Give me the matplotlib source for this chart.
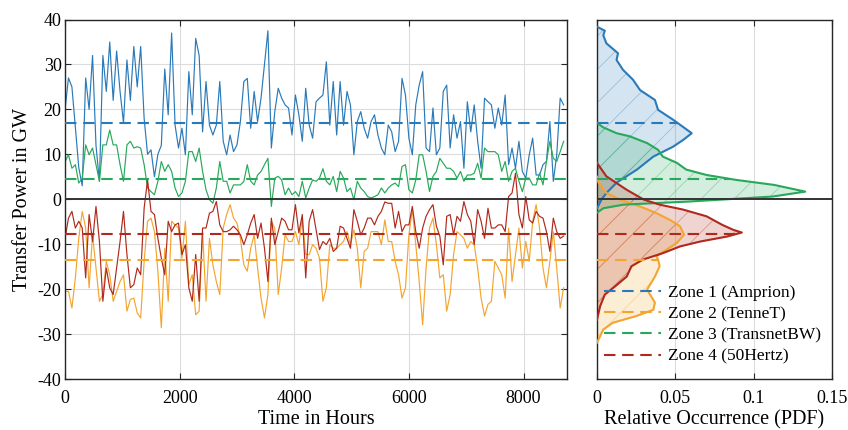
import numpy as np
import matplotlib
matplotlib.use('Agg')
import matplotlib.pyplot as plt
from matplotlib.lines import Line2D

# ---------------- data ----------------
step_hours = 60
zone1 = [20, 27, 25, 16, 7, 3, 27, 20, 32, 12, 4, 32, 24, 35, 22, 33, 24, 17, 31, 22, 34, 25, 34, 18, 10, 11, 5, 10, 12, 29,
         18.8, 37, 16.5, 11.4, 15.8, 9.9, 28.4, 18.8, 35.8, 32, 15, 26.2, 16.5, 14.3, 16.5, 26.2, 12.9, 9.9, 14.3, 10.6, 12.1, 17.3, 26.2, 26.9, 15.8, 24, 17.3, 22.5,
         30, 37.5, 11.4, 19.5, 24.7, 22.5, 21, 20.3, 14.3, 23.2, 18.8, 12.9, 24.7, 16.5, 13.6, 21.7, 22.5, 23.2, 30.6, 16.5, 26.2, 14.3, 26.2, 16.5, 24, 21, 9.9, 17.3, 19.5, 15.8,
         13.6, 17.3, 18.8, 14.3, 11.4, 9.9, 16.5, 15, 10.6, 12.9, 26.9, 23.2, 13.6, 9.9, 21, 25.4, 28.4, 11.4, 10.6, 20.3, 9.9, 11.4, 24, 25.4, 11.4, 18.8, 13.6, 17.3, 6.9,
         21.7, 15, 21, 12.9, 6.9, 22.5, 21.7, 21, 15.8, 20.3, 16.5, 23.2, 7.7, 11.4, 6.9, 12.9, 6.2, 4.7, 9.9, 13.6, 5.4, 5.4, 7.7, 8.4, 17.3, 4, 9.9, 22.5, 21]
zone2 = [-20.5, -20.5, -24.2, -17.5, -8.6, -2.7, -6.4, -19.7, -7.9, -15.3, -22.7, -21.2, -13.8, -16.8, -22.7, -20.5, -18.3, -16.8, -24.9, -22.3, -22, -25.3, -26.4, -13.8, -4.9, -4.2, -7.2, -16, -28.6, -10.9,
         -22.7, -4.9, -5.7, -6.4, -13.1, -4.9, -19, -16.8, -25.7, -24.9, -7.2, -22.7, -8.7, -14.6, -18.3, -21.2, -6.4, -3.4, -1.2, -4.2, -5.3, -8.7, -14.6, -16, -10.9, -7.9, -15.3, -22,
         -26.4, -21.2, -4.9, -6.4, -21.2, -15.3, -7.9, -9.4, -9.4, -7.2, -10.1, -4.2, -12.3, -12.3, -10.1, -10.9, -13.1, -22.7, -19.7, -10.1, -10.9, -10.9, -10.1, -9.4, -7.2, -10.1, -6.8, -10.9, -19.7, -11.6,
         -10.9, -7.2, -7.2, -7.2, -10.1, -4.6, -9.4, -9.4, -13.8, -16.8, -22, -19.7, -7.9, -2.3, -10.1, -18.3, -27.9, -15.3, -6.4, -4.2, -10.1, -17.5, -16.8, -24.9, -21.2, -12.3, -7.2, -7.9, -8.7,
         -10.9, -9.4, -10.1, -15.3, -22, -26, -23.4, -22.7, -13.8, -15.3, -16.8, -22, -6.4, -18.3, -12.3, -6.4, -15.3, -9.4, -13.8, -4.9, -1.2, -6.4, -15.3, -19.7, -13.8, -7.2, -15.3, -24.2, -19.7]
zone3 = [8.4, 9.9, 6.9, 7.7, 3.6, 4.7, 12.1, 9.9, 11.4, 7.7, 4, 12.1, 12.1, 15.4, 12.1, 12.1, 7.7, 4, 12.1, 12.9, 11.4, 11.7, 11.4, 7.7, 2.5, 1.7, 1, 4, 8.4, 6.2,
         7.7, 6.2, 2.5, 0.6, 1.4, 4, 10.6, 10.6, 8.4, 11.4, 6.2, 2.1, -0.1, -0.9, 2.5, 8.4, 4, 4, 1.4, 3.2, 3.2, 3.2, 4, 7.7, 4, 3.2, 5.4, 6.2,
         7.7, 9.1, -1.6, 4.7, 5.1, 4.3, 1, 2.5, 1, 1.7, 0.6, 4, 0.3, 2.5, 4.3, 4, 4.7, 6.8, 4, 3.2, 5.1, 1.7, 6.2, 4.7, 1.7, 2.5, -0.1, 4, 2.5, 1.7,
         0.6, 0.3, 0.6, 1, 2.5, 1.4, 2.5, 3.2, 3.6, 2.8, 7.3, 7.7, 2.1, 1.4, 4.3, 9.9, 9.9, 6.2, 1.7, 5.1, 6.2, 9.1, 8, 6.9, 6.9, 6.2, 4.7, 6.2, 4,
         5.4, 5.4, 5.8, 8, 4.7, 11.4, 10.6, 10.6, 10.6, 9.9, 6.2, 8.4, 4, 6.2, 6.9, 4, 1.7, 4.7, 4.7, 3.2, 3.2, 5.8, 3.2, 8.4, 12.9, 9.1, 8.4, 10.6, 12.9]
zone4 = [-8.7, -4.2, -2.7, -6.4, -4.9, -6.4, -17.5, -3.4, -9.4, -1.6, -9.4, -22.7, -15.3, -19.7, -21.2, -15.3, -9.4, -2.7, -12.3, -19.7, -19, -15.3, -16.8, -2, 4.3, -2.7, -3.4, -8.7, -13.1, -16.8,
         -4.9, -7.2, -5.7, -5.3, -12.3, -10.1, -19.7, -22.7, -12.3, -22.7, -6.4, -6.4, -3.1, -2.7, -0.5, -5.7, -7.2, -7.2, -6.8, -6, -6.8, -7.9, -10.1, -7.9, -5.3, -3.4, -8.7, -5.3,
         -10.9, -18.3, -4.2, -10.1, -7.2, -4.2, -4.9, -6.8, -6.8, -1.2, -7.5, -3.4, -17.5, -4.9, -2.3, -6.8, -11.2, -9.4, -10.1, -8.7, -11.6, -10.9, -6, -6.4, -8.7, -10.9, -2.3, -4.9, -7.9, -6.4,
         -4.2, -4.2, -5.7, -3.8, -2.7, -0.6, -0.9, -0.9, -6.4, -2.7, -7.2, -5.7, -5.7, -1.6, -7.2, -10.9, -6.4, -3.8, -2.3, -1.2, -6, -8.2, -14.6, -3.8, -3.4, -7.9, -3.8, -4.9, -0.5,
         -3.4, -4.9, -10.1, -2.3, -4.9, -8.7, -2, -6.4, -6.4, -5.7, -5.7, -7.2, 0.6, 1.4, 5.8, -3.4, -6.4, 0.6, -4.6, -5.3, -2.7, -3.8, -4.2, -7.2, -11.6, -4.2, -7.2, -8.7, -8.2]

zone_means = [16.9, -13.5, 4.55, -7.65]
zone_labels = ['Zone 1 (Amprion)', 'Zone 2 (TenneT)', 'Zone 3 (TransnetBW)', 'Zone 4 (50Hertz)']

# PDF curves (power level in GW, relative occurrence)
pdf1_y = [-2, 0, 1.4, 3.7, 6.6, 9.5, 11.7, 13.2, 14.7, 17.7, 19.9, 22.1, 24.3, 26.6, 28.8, 31, 32.5, 34.7, 36.5, 37.5, 38.4]
pdf1_d = [0, 0.003, 0.006, 0.0125, 0.0255, 0.036, 0.0486, 0.055, 0.0605, 0.0486, 0.039, 0.037, 0.0275, 0.023, 0.0166, 0.0125, 0.0134, 0.006, 0.004, 0.005, 0]
pdf2_y = [-31.9, -29, -27.5, -26, -24.6, -23, -20.1, -17.2, -14.9, -13.4, -12.7, -11.2, -9.7, -7.9, -6, -4.6, -3.1, -1.6, -0.1, 1.4, 3.7, 5]
pdf2_d = [0, 0.004, 0.010, 0.025, 0.036, 0.037, 0.032, 0.037, 0.040, 0.039, 0.038, 0.0445, 0.051, 0.0556, 0.053, 0.0466, 0.038, 0.0275, 0.015, 0.006, 0.001, 0]
pdf3_y = [-3, -2, -1.2, -0.5, 0.6, 1.7, 3.2, 4.3, 5.4, 6.6, 8.1, 9.5, 11, 12.5, 14, 14.7, 16, 17]
pdf3_d = [0, 0.004, 0.017, 0.059, 0.112, 0.133, 0.113, 0.089, 0.070, 0.057, 0.051, 0.042, 0.039, 0.032, 0.021, 0.0125, 0.004, 0]
pdf4_y = [-26.8, -23.8, -21.2, -19.4, -17.2, -14.9, -13.4, -12, -10.5, -9.4, -8.3, -7.4, -6.8, -5.7, -3.8, -2.3, -1.2, -0.1, 2.1, 5.1, 8.1]
pdf4_d = [0, 0.002, 0.005, 0.0115, 0.019, 0.022, 0.0295, 0.042, 0.053, 0.066, 0.083, 0.0925, 0.087, 0.080, 0.070, 0.055, 0.040, 0.030, 0.019, 0.006, 0]

x_ticks = [0, 2000, 4000, 6000, 8000]
y_ticks = [-40, -30, -20, -10, 0, 10, 20, 30, 40]
pdf_ticks = [0, 0.05, 0.1, 0.15]
pdf_tick_labels = ['0', '0.05', '0.1', '0.15']

# ---------------- style ----------------
colors = ['#2a7ab9', '#f4a530', '#27a85a', '#b0291d']
plt.rcParams['font.family'] = ['Liberation Serif', 'DejaVu Serif']
plt.rcParams['axes.unicode_minus'] = False
plt.rcParams['hatch.linewidth'] = 0.6

series = [zone1, zone2, zone3, zone4]
pdfs = [(pdf1_y, pdf1_d), (pdf2_y, pdf2_d), (pdf3_y, pdf3_d), (pdf4_y, pdf4_d)]
hours = np.arange(len(zone1)) * step_hours

fig = plt.figure(figsize=(8.48, 4.3), dpi=100)
ax1 = fig.add_axes([0.0767, 0.1186, 0.592, 0.836])
ax2 = fig.add_axes([0.704, 0.1186, 0.277, 0.836])

dash = (0, (5.5, 3.2))

for s, c in zip(series, colors):
    ax1.plot(hours, s, color=c, lw=0.85, zorder=2)
ax1.axhline(0, color='#333333', lw=1.4, zorder=3)
for m, c in zip(zone_means, colors):
    ax1.axhline(m, color=c, lw=1.5, ls=dash, zorder=4)

ax1.set_xlim(0, 8760)
ax1.set_ylim(-40, 40)
ax1.set_xticks(x_ticks)
ax1.set_yticks(y_ticks)
ax1.grid(True, color='#dcdcdc', lw=0.8, zorder=0)
ax1.set_axisbelow(True)
ax1.tick_params(direction='in', top=True, right=True, labelsize=13, length=4, color='#262626')
ax1.tick_params(axis='x', pad=8)
ax1.tick_params(axis='y', pad=2.5)
ax1.set_xlabel('Time in Hours', fontsize=14.5, labelpad=2)
ax1.set_ylabel('Transfer Power in GW', fontsize=14.5, labelpad=4)

for (py, pd_), c in zip(pdfs, colors):
    ax2.fill_betweenx(py, 0, pd_, color=c, alpha=0.2, lw=0, zorder=2)
    ax2.fill_betweenx(py, 0, pd_, facecolor='none', edgecolor=c, hatch='/', lw=0, alpha=0.35, zorder=2)
for (py, pd_), c in zip(pdfs, colors):
    ax2.plot(pd_, py, color=c, lw=1.5, zorder=3)
ax2.axhline(0, color='#333333', lw=1.4, zorder=3)
for (py, pd_), m, c in zip(pdfs, zone_means, colors):
    ax2.plot([0, np.interp(m, py, pd_)], [m, m], color=c, lw=1.5, ls=dash, zorder=4)

ax2.set_xlim(0, 0.15)
ax2.set_ylim(-40, 40)
ax2.set_xticks(pdf_ticks)
ax2.set_xticklabels(pdf_tick_labels)
ax2.set_yticks(y_ticks)
ax2.set_yticklabels([])
ax2.grid(True, axis='x', color='#dcdcdc', lw=0.8, zorder=0)
ax2.set_axisbelow(True)
ax2.tick_params(axis='x', direction='in', top=True, labelsize=13, length=4, color='#262626', pad=8)
ax2.tick_params(axis='y', length=0)
ax2.set_xlabel('Relative Occurrence (PDF)', fontsize=14.5, labelpad=2)

for ax in (ax1, ax2):
    for sp in ax.spines.values():
        sp.set_color('#262626')
        sp.set_linewidth(1.0)

handles = [Line2D([0], [0], color=c, lw=1.5, ls=dash) for c in colors]
ax2.legend(handles, zone_labels, loc='lower left', bbox_to_anchor=(0.0, 0.02),
           frameon=False, fontsize=12.5, handlelength=3.3, labelspacing=0.3,
           handletextpad=0.4, borderaxespad=0.0, borderpad=0.4)

fig.savefig('out.png', dpi=100)
